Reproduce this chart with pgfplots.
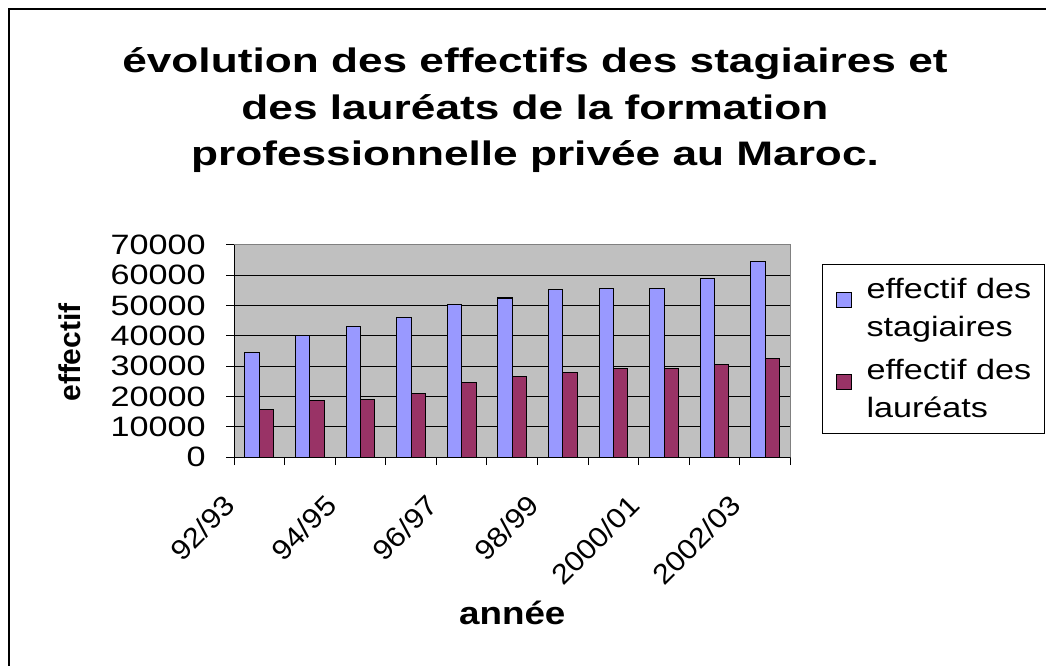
\documentclass[border=0pt]{standalone}
\usepackage{pgfplots}
\pgfplotsset{compat=1.18}
\usepackage{fontspec}
\setmainfont{Liberation Sans}
\newfontfamily\rs[FakeStretch=1.22]{Liberation Sans}
\newfontfamily\xs[FakeStretch=1.1]{Liberation Sans}
\newfontfamily\ts[FakeStretch=1.3]{Liberation Sans}
\newfontfamily\ns[FakeStretch=1.15]{Liberation Sans}
\definecolor{barblue}{HTML}{9999FF}
\definecolor{barred}{HTML}{993366}
\definecolor{plotgray}{HTML}{C0C0C0}
\begin{document}
\begin{tikzpicture}
% outer chart border (cropped on the right and bottom)
\draw[black, line width=1.5pt] (6.5pt,-6.5pt) rectangle (800pt,-520pt);
% title
\node[anchor=base, inner sep=0pt] at (401.25pt,-54.75pt) {\ts\bfseries\fontsize{25.5}{30}\selectfont évolution des effectifs des stagiaires et};
\node[anchor=base, inner sep=0pt] at (401.25pt,-90pt) {\ts\bfseries\fontsize{25.5}{30}\selectfont des lauréats de la formation};
\node[anchor=base, inner sep=0pt] at (401.25pt,-124.5pt) {\ts\bfseries\fontsize{25.5}{30}\selectfont professionnelle privée au Maroc.};
\begin{axis}[
  at={(175.5pt,-342.75pt)}, anchor=south west,
  scale only axis, width=417.4pt, height=159pt,
  xmin=-0.5, xmax=10.5, ymin=0, ymax=70000,
  ybar=0pt, bar width=10.75pt,
  axis background/.style={fill=plotgray},
  axis line style={draw=gray, line width=0.75pt},
  /pgf/number format/assume math mode=true,
  scaled y ticks=false,
  tick pos=left,
  ytick={0,10000,...,70000},
  yticklabel style={font=\rs\fontsize{21}{24}\selectfont, anchor=east, inner sep=0pt, xshift=-15pt,
    /pgf/number format/.cd, fixed, 1000 sep={}},
  ymajorgrids, grid style={black, line width=0.75pt},
  tick align=outside, major tick length=6pt, minor tick length=6pt,
  major y tick style={black, line width=0.75pt},
  xtick={0,2,...,10},
  xticklabels={92/93,94/95,96/97,98/99,2000/01,2002/03},
  major x tick style={draw=none},
  minor xtick={-0.5,0.5,...,10.5},
  minor x tick style={black, line width=0.75pt},
  xticklabel style={font=\xs\fontsize{21}{24}\selectfont, xshift=-27.5pt, yshift=-21pt, rotate=45, anchor=north east, inner sep=0pt},
  xlabel={\ns\bfseries\fontsize{24}{28}\selectfont année},
  xlabel style={at={(axis description cs:0.5,-0.792)}, anchor=base, inner sep=0pt},
  ylabel={\bfseries\fontsize{22.5}{26}\selectfont effectif},
  ylabel style={at={(axis description cs:-0.2767,0.493)}, anchor=base, inner sep=0pt},
  legend style={at={(axis description cs:1.0566,0.9104)}, anchor=north west,
    draw=black, line width=0.75pt, fill=white,
    font=\rs\fontsize{21}{28.5}\selectfont,
    nodes={align=left, inner sep=0pt, line width=0.4pt},
    legend cell align=left, row sep=16pt, inner xsep=10pt, inner ysep=10pt},
  legend image code/.code={\draw[#1, draw=black, line width=0.75pt] (0pt,0pt) rectangle (11.25pt,11.25pt);},
]
\addplot[fill=barblue, draw=black, line width=0.75pt] coordinates {
 (0,34500) (1,40000) (2,43100) (3,45900) (4,50500) (5,52500)
 (6,55200) (7,55800) (8,55800) (9,59100) (10,64600)};
\addplot[fill=barred, draw=black, line width=0.75pt] coordinates {
 (0,15800) (1,18500) (2,19100) (3,21100) (4,24600) (5,26600)
 (6,27800) (7,29100) (8,29100) (9,30600) (10,32600)};
\addlegendentry{\hspace{11pt}effectif des\\\hspace{11pt}stagiaires}
\addlegendentry{\hspace{11pt}effectif des\\\hspace{11pt}lauréats}
\draw[black, line width=0.75pt] (rel axis cs:0,1) -- (rel axis cs:0,0) -- (rel axis cs:1,0);
\end{axis}
\pgfresetboundingbox
\path[use as bounding box] (0pt,0pt) rectangle (784.5pt,-499.5pt);
\end{tikzpicture}
\end{document}
